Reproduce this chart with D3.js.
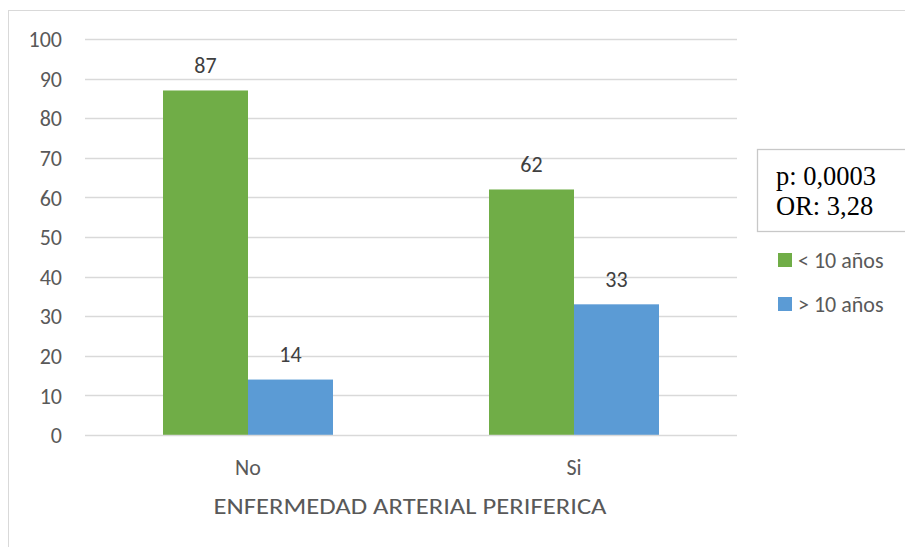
<!DOCTYPE html>
<html><head><meta charset="utf-8">
<script src="https://cdn.jsdelivr.net/npm/d3@7"></script>
<style>body{margin:0;background:#fff}svg{display:block}</style>
</head><body>
<svg id="c" width="905" height="547"></svg>
<script>
const categories = ["No", "Si"];
const seriesNames = ["< 10 años", "> 10 años"];
const seriesValues = [[87, 62], [14, 33]];
const seriesColors = ["#70ad47", "#5b9bd5"];
const yTicks = [0,10,20,30,40,50,60,70,80,90,100];
const axisTitle = "ENFERMEDAD ARTERIAL PERIFERICA";
const annotation = ["p: 0,0003", "OR: 3,28"];

(function(){
const svg = d3.select("#c");
const font = "Carlito, Calibri, 'Open Sans', Lato, sans-serif";
const txt = "#595959";
const fs = "22px";

// outer border
svg.append("rect").attr("x",8.5).attr("y",10.5).attr("width",1000).attr("height",1000)
  .attr("fill","none").attr("stroke","#d9d9d9");

const pLeft = 85, pRight = 737, pTop = 39, pBottom = 435;
const x = d3.scaleBand().domain(categories).range([pLeft, pRight]);
const y = d3.scaleLinear().domain([0, 100]).range([pBottom, pTop]);
const groupW = 170;
const xs = d3.scaleBand().domain(d3.range(seriesNames.length)).range([0, groupW]);

// gridlines
svg.append("g").selectAll("line").data(yTicks.filter(t=>t>0)).join("line")
  .attr("x1",pLeft).attr("x2",pRight)
  .attr("y1",d=>Math.round(y(d))+0.5).attr("y2",d=>Math.round(y(d))+0.5)
  .attr("stroke","#d9d9d9").attr("stroke-width",1.3);

// y axis labels
const yAxis = d3.axisLeft(y).tickValues(yTicks).tickSize(0).tickPadding(0);
const ga = svg.append("g").attr("transform",`translate(62,0)`).call(yAxis);
ga.select(".domain").remove();
ga.selectAll("text").attr("fill",txt).style("font-family",font).style("font-size",fs).attr("dy","0.35em");

// bars
seriesNames.forEach((s,i)=>{
  const g = svg.append("g");
  g.selectAll("rect").data(categories).join("rect")
    .attr("x",(c)=>x(c)+(x.bandwidth()-groupW)/2+xs(i))
    .attr("width",xs.bandwidth())
    .attr("y",(c,j)=>y(seriesValues[i][j]))
    .attr("height",(c,j)=>pBottom-y(seriesValues[i][j]))
    .attr("fill",seriesColors[i]);
  g.selectAll("text").data(categories).join("text")
    .attr("x",(c)=>x(c)+(x.bandwidth()-groupW)/2+xs(i)+xs.bandwidth()/2)
    .attr("y",(c,j)=>y(seriesValues[i][j])-25)
    .attr("dy","0.35em").attr("text-anchor","middle")
    .attr("fill","#404040").style("font-family",font).style("font-size",fs)
    .text((c,j)=>seriesValues[i][j]);
});

// baseline
svg.append("line").attr("x1",pLeft).attr("x2",pRight).attr("y1",pBottom+0.5).attr("y2",pBottom+0.5)
  .attr("stroke","#d9d9d9").attr("stroke-width",1.5);

// x axis labels
const xAxis = d3.axisBottom(x).tickSize(0).tickPadding(0);
const gx = svg.append("g").attr("transform",`translate(0,467)`).call(xAxis);
gx.select(".domain").remove();
gx.selectAll("text").attr("fill",txt).style("font-family",font).style("font-size",fs).attr("dy","0.35em");

svg.append("text").attr("x",410).attr("y",506).attr("dy","0.35em").attr("text-anchor","middle")
  .attr("fill",txt).style("font-family",font).style("font-size","22px")
  .attr("textLength",393).attr("lengthAdjust","spacingAndGlyphs").text(axisTitle);

// annotation box
svg.append("rect").attr("x",757.5).attr("y",149.5).attr("width",200).attr("height",82)
  .attr("fill","#fff").attr("stroke","#c8c8c8").attr("stroke-width",1.3);
svg.append("g").selectAll("text").data(annotation).join("text")
  .attr("x",776).attr("y",(d,i)=>185+i*30)
  .attr("fill","#000").style("font-family","'Liberation Serif', 'Times New Roman', serif").style("font-size","26.5px")
  .text(d=>d);

// legend
const lg = svg.append("g").selectAll("g").data(seriesNames).join("g")
  .attr("transform",(d,i)=>`translate(778,${260+i*44})`);
lg.append("rect").attr("x",0).attr("y",-7).attr("width",14).attr("height",14).attr("fill",(d,i)=>seriesColors[i]);
lg.append("text").attr("x",20).attr("y",0).attr("dy","0.35em").attr("fill",txt)
  .style("font-family",font).style("font-size",fs).text(d=>d);
})();
</script>
</body></html>
